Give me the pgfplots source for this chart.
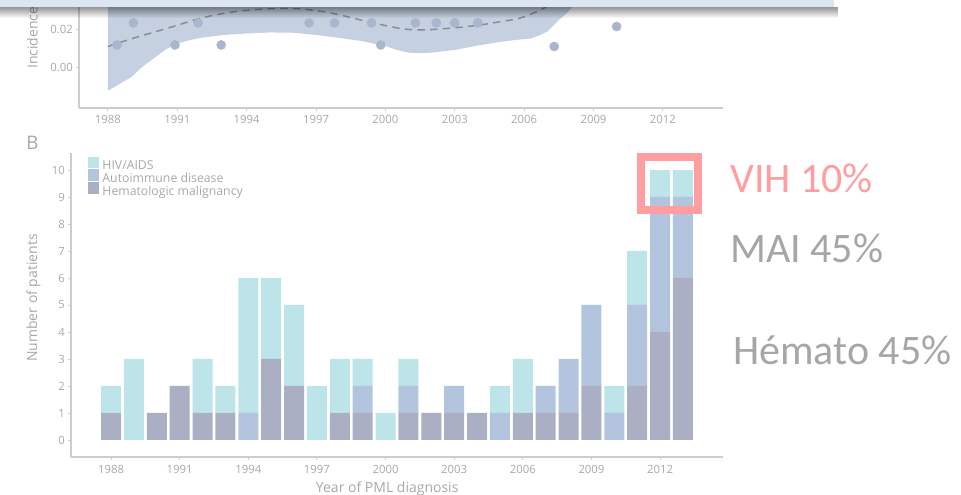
\documentclass[border=0pt]{standalone}
\usepackage{fontspec}
\setmainfont{Open Sans}
\newfontfamily\calib{Carlito}
\usepackage{pgfplots}
\pgfplotsset{compat=1.18}
\usepackage{pgfplotstable}
\usetikzlibrary{fadings}

\definecolor{hiv}{RGB}{189,228,233}
\definecolor{autoi}{RGB}{179,196,223}
\definecolor{hema}{RGB}{170,175,196}
\definecolor{axgray}{RGB}{205,205,205}
\definecolor{txtgray}{RGB}{168,168,168}
\definecolor{band}{RGB}{197,208,224}
\definecolor{dots}{RGB}{170,182,206}
\definecolor{dashc}{RGB}{138,140,148}
\definecolor{pinkc}{RGB}{255,158,160}
\definecolor{anngray}{RGB}{166,166,166}
\definecolor{header}{RGB}{220,230,242}

\pgfplotstableread{
year hema auto hiv
1988 1 0 1
1989 0 0 3
1990 1 0 0
1991 2 0 0
1992 1 0 2
1993 1 0 1
1994 0 1 5
1995 3 0 3
1996 2 0 3
1997 0 0 2
1998 1 0 2
1999 1 1 1
2000 0 0 1
2001 1 1 1
2002 1 0 0
2003 1 1 0
2004 1 0 0
2005 0 1 1
2006 1 0 2
2007 1 1 0
2008 1 2 0
2009 2 3 0
2010 0 1 1
2011 2 3 2
2012 4 5 1
2013 6 3 1
}\pmltable

\pgfplotsset{
  myaxis/.style={
    scale only axis,
    axis x line*=bottom, axis y line*=left,
    axis line style={draw=axgray, line width=0.9pt},
    tick style={draw=axgray, line width=0.7pt},
    major tick length=2.5pt, tick align=outside,
    tick label style={font=\fontsize{8.5}{10}\selectfont, text=txtgray},
    /pgf/number format/assume math mode=true,
    scaled x ticks=false, scaled y ticks=false,
    label style={font=\fontsize{10.5}{12}\selectfont, text=txtgray},
  },
}

\begin{document}
\begin{tikzpicture}
\useasboundingbox (0,0) rectangle (720.75pt,371.25pt);

% ---------- Panel A (partly visible) ----------
\begin{axis}[myaxis,
  at={(59.25pt,290.25pt)}, anchor=south west,
  width=483pt, height=81pt,
  xmin=1986.75, xmax=2014.6, ymin=-0.021, ymax=0.0352,
  xtick={1988,1991,1994,1997,2000,2003,2006,2009,2012},
  xticklabels={1988,1991,1994,1997,2000,2003,2006,2009,2012},
  ytick={0,0.02}, yticklabels={0.00,0.02},
  xticklabel style={inner sep=0pt, anchor=north, yshift=-2.75pt},
  yticklabel style={inner sep=0pt, anchor=east, xshift=-2pt},
  ylabel={Incidence},
  ylabel style={at={(axis description cs:-0.0644,0.36)}, anchor=base west, inner sep=0pt},
]
\addplot[fill=band, draw=none] coordinates {
  (1988,-0.012) (1988.5,-0.0085) (1989,-0.005) (1989.5,0.0005) (1990,0.005)
  (1990.5,0.0095) (1991,0.0125) (1991.5,0.0142) (1992,0.0155) (1993,0.017)
  (1994,0.0178) (1995,0.0183) (1996,0.0182) (1997,0.017) (1998,0.0155)
  (1999,0.0138) (2000,0.0112) (2000.5,0.0092) (2001,0.0078) (2001.5,0.0075)
  (2002,0.0078) (2003,0.0092) (2004,0.0115) (2005,0.0135) (2005.7,0.0145)
  (2006.3,0.0152) (2006.7,0.017) (2007,0.0188) (2007.5,0.0248) (2007.9,0.029)
  (2008.1,0.032) (2008.4,0.038) (2008.6,0.05) (2008.6,0.06) (1988,0.06)
} -- cycle;
\addplot[dashc, line width=1.1pt, dash pattern=on 5.5pt off 4pt, smooth] coordinates {
  (1988,0.011) (1989.1,0.0153) (1990.8,0.0213) (1992,0.0257) (1993.4,0.029)
  (1994.9,0.0306) (1996.3,0.0306) (1997.7,0.0283) (1999.2,0.024) (2000.6,0.0205)
  (2001.5,0.0196) (2002.8,0.0205) (2004.1,0.0222) (2005,0.024) (2005.8,0.0257)
  (2006.7,0.030) (2007.5,0.036) (2008.2,0.045)
};
\addplot[only marks, mark=*, mark size=3.4pt, color=dots] coordinates {
  (1988.4,0.0118) (1989.1,0.0233) (1990.9,0.0118) (1991.9,0.0233) (1992.9,0.0118)
  (1996.7,0.0233) (1997.8,0.0233) (1999.4,0.0233) (1999.8,0.0118) (2001.3,0.0233)
  (2002.2,0.0233) (2003.0,0.0233) (2004.0,0.0233) (2007.3,0.011) (2010.0,0.0214)
};
\end{axis}

% ---------- Panel B ----------
\begin{axis}[myaxis,
  at={(53.25pt,28.5pt)}, anchor=south west,
  width=489pt, height=228pt,
  xmin=1986.25, xmax=2014.75, ymin=-0.63, ymax=10.63,
  ybar stacked, bar width=0.875,
  xtick={1988,1991,1994,1997,2000,2003,2006,2009,2012},
  xticklabels={1988,1991,1994,1997,2000,2003,2006,2009,2012},
  ytick={0,1,2,3,4,5,6,7,8,9,10},
  xticklabel style={inner sep=0pt, anchor=north, yshift=-3.5pt},
  yticklabel style={inner sep=0pt, anchor=east, xshift=-2pt},
  xlabel={Year of PML diagnosis},
  xlabel style={at={(axis description cs:0.485,0)}, anchor=base, yshift=-26.3pt},
  ylabel={Number of patients},
  ylabel style={at={(axis description cs:-0.0521,0.523)}, anchor=base},
  reverse legend,
  legend cell align=left,
  legend image code/.code={\fill[#1,draw=none,overlay] (0pt,-0.6pt) rectangle (8.5pt,7.9pt); \path (0pt,0pt) (8.5pt,0pt);},
  legend style={at={(axis description cs:0.026,0.975)}, anchor=north west,
    draw=none, fill=none, inner sep=0pt, outer sep=0pt, row sep=0pt,
    font=\fontsize{9.2}{10}\selectfont, text=txtgray,
    nodes={inner sep=0pt, inner xsep=2.4pt, text height=6.8pt, text depth=2.9pt}},
]
\addplot[fill=hema, draw=none] table[x=year, y=hema]{\pmltable};
\addlegendentry{Hematologic malignancy}
\addplot[fill=autoi, draw=none] table[x=year, y=auto]{\pmltable};
\addlegendentry{Autoimmune disease}
\addplot[fill=hiv, draw=none] table[x=year, y=hiv]{\pmltable};
\addlegendentry{HIV/AIDS}
\end{axis}

\begin{scope}[x=0.75pt, y=0.75pt]
  \node[anchor=base west, inner sep=0pt, text=txtgray, font=\fontsize{14}{16}\selectfont] at (26,345) {B};
  \draw[pinkc, line width=6pt] (641,338) rectangle (698,285);
  \node[anchor=base west, inner sep=0pt, text=pinkc, font=\calib\fontsize{31.5}{36}\selectfont] at (730,302) {VIH 10\%};
  \node[anchor=base west, inner sep=0pt, text=anngray, font=\calib\fontsize{31.5}{36}\selectfont] at (730,232) {MAI 45\%};
  \node[anchor=base west, inner sep=0pt, text=anngray, font=\calib\fontsize{31.5}{36}\selectfont] at (733,130) {Hémato 45\%};
  \fill[black, fill opacity=0.4, path fading=south] (0,477) rectangle (838,487.5);
  \fill[header] (0,487.5) rectangle (834,495);
\end{scope}
\end{tikzpicture}
\end{document}
